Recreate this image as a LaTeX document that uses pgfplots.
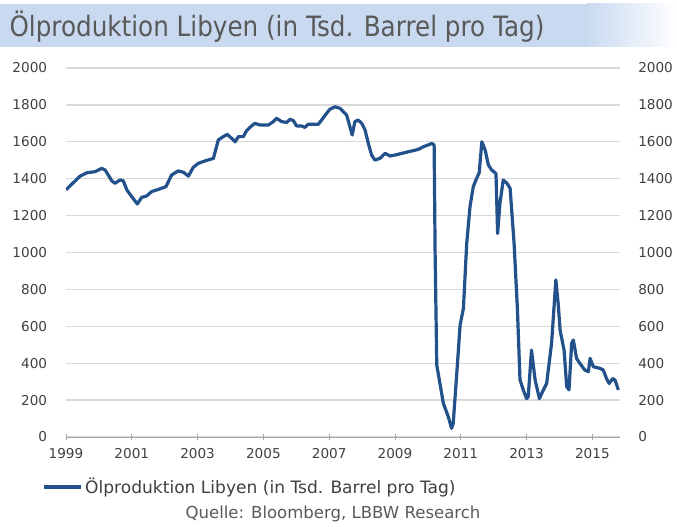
\documentclass[border=0pt]{standalone}
\usepackage{pgfplots}
\pgfplotsset{compat=1.18}
\usepackage{fontspec}
\setmainfont{DejaVu Sans}
\newfontfamily\titlefont[FakeStretch=0.88]{DejaVu Sans}
\definecolor{lineblue}{HTML}{22518C}
\definecolor{gridgray}{HTML}{D9D9D9}
\definecolor{txtgray}{HTML}{404040}
\definecolor{titlegray}{HTML}{595959}
\definecolor{bandblue}{HTML}{C9DAF0}
\pgfplotstableread{
x y
1999.00 1339
1999.22 1378
1999.43 1414
1999.63 1432
1999.88 1438
2000.09 1456
2000.19 1447
2000.39 1389
2000.49 1375
2000.64 1393
2000.74 1389
2000.85 1339
2001.00 1302
2001.17 1263
2001.30 1299
2001.45 1306
2001.60 1330
2001.81 1342
2002.04 1357
2002.21 1420
2002.41 1442
2002.57 1435
2002.72 1414
2002.87 1462
2003.02 1483
2003.22 1496
2003.48 1510
2003.63 1610
2003.78 1628
2003.90 1640
2004.04 1618
2004.14 1600
2004.24 1628
2004.39 1628
2004.49 1660
2004.64 1686
2004.74 1700
2004.90 1691
2005.15 1691
2005.30 1709
2005.40 1727
2005.56 1709
2005.71 1705
2005.81 1722
2005.91 1715
2006.01 1686
2006.16 1686
2006.26 1678
2006.36 1695
2006.67 1695
2006.77 1718
2006.92 1754
2007.02 1776
2007.18 1790
2007.33 1781
2007.43 1763
2007.53 1745
2007.63 1682
2007.70 1637
2007.78 1709
2007.88 1718
2007.99 1700
2008.09 1664
2008.19 1591
2008.29 1528
2008.39 1501
2008.54 1510
2008.70 1537
2008.85 1523
2009.00 1528
2009.20 1537
2009.40 1546
2009.56 1552
2009.71 1559
2009.86 1573
2010.01 1583
2010.12 1591
2010.19 1583
2010.22 995
2010.27 390
2010.47 183
2010.62 110
2010.72 47
2010.77 74
2010.85 273
2010.98 607
2011.08 697
2011.18 1048
2011.28 1248
2011.38 1357
2011.48 1401
2011.56 1432
2011.64 1600
2011.74 1556
2011.84 1474
2011.94 1447
2012.07 1428
2012.12 1103
2012.19 1265
2012.29 1393
2012.41 1374
2012.50 1347
2012.62 1050
2012.72 700
2012.80 310
2012.90 255
2013.00 208
2013.05 218
2013.15 471
2013.26 309
2013.39 208
2013.51 255
2013.61 290
2013.76 507
2013.89 851
2013.96 724
2014.02 578
2014.14 471
2014.22 273
2014.29 255
2014.37 507
2014.42 526
2014.52 426
2014.62 399
2014.77 363
2014.88 354
2014.93 426
2015.03 381
2015.23 372
2015.33 363
2015.43 317
2015.51 290
2015.62 317
2015.69 308
2015.79 255
}\oildata
\begin{document}
\begin{tikzpicture}
\path (0,0) rectangle (507.75pt,395.25pt);
% title band
\fill[bandblue] (0,360pt) rectangle (440pt,392.25pt);
\shade[left color=bandblue,right color=white] (439.9pt,360pt) rectangle (507.75pt,392.25pt);
\node[anchor=west,inner sep=0pt,text=titlegray,font=\titlefont\fontsize{21}{24}\selectfont] at (7pt,375.5pt) {Ölproduktion Libyen (in Tsd. Barrel pro Tag)};
\begin{axis}[
  at={(49.5pt,67.5pt)}, anchor=south west,
  width=415.5pt, height=276.75pt, scale only axis,
  xmin=1999, xmax=2015.84, ymin=0, ymax=2000,
  xtick={1999,2001,...,2015},
  ytick={0,200,...,2000},
  /pgf/number format/1000 sep={},
  /pgf/number format/assume math mode=true,
  separate axis lines,
  axis x line*=bottom, axis y line*=left,
  x axis line style={gray!70, line width=0.6pt, -},
  y axis line style={draw=none, -},
  ymajorgrids, grid style={gridgray, line width=1pt},
  xtick style={gray!70, line width=0.6pt},
  major tick length=4pt, tick align=center,
  ytick style={draw=none},
  yticklabel style={font=\fontsize{10.2}{12}\selectfont, text=txtgray, inner sep=0pt, anchor=east, xshift=-12pt},
  xticklabel style={font=\fontsize{10.2}{12}\selectfont, text=txtgray, inner sep=0pt, anchor=north, yshift=-6.5pt},
  legend style={draw=none, fill=none, inner sep=0pt, outer sep=0pt, at={(axis description cs:-0.0433,-0.1355)}, anchor=west, font=\fontsize{12.8}{15}\selectfont, text=txtgray},
  legend image code/.code={\draw[#1] (0pt,0pt) -- (28pt,0pt);},
]
\addplot[lineblue, line width=2.4pt, line join=round] table {\oildata};
\addlegendentry{Ölproduktion Libyen (in Tsd. Barrel pro Tag)}
\end{axis}
\begin{axis}[
  at={(49.5pt,67.5pt)}, anchor=south west,
  width=415.5pt, height=276.75pt, scale only axis,
  xmin=1999, xmax=2015.84, ymin=0, ymax=2000,
  ytick={0,200,...,2000},
  /pgf/number format/1000 sep={},
  /pgf/number format/assume math mode=true,
  axis x line=none, axis y line*=right,
  y axis line style={draw=none, -},
  ytick style={draw=none},
  yticklabel style={font=\fontsize{10.2}{12}\selectfont, text=txtgray, inner sep=0pt, anchor=west, xshift=13.5pt},
]
\end{axis}
\node[text=titlegray, font=\fontsize{12.4}{14}\selectfont] at (249.75pt,9.5pt) {Quelle: Bloomberg, LBBW Research};
\end{tikzpicture}
\end{document}
